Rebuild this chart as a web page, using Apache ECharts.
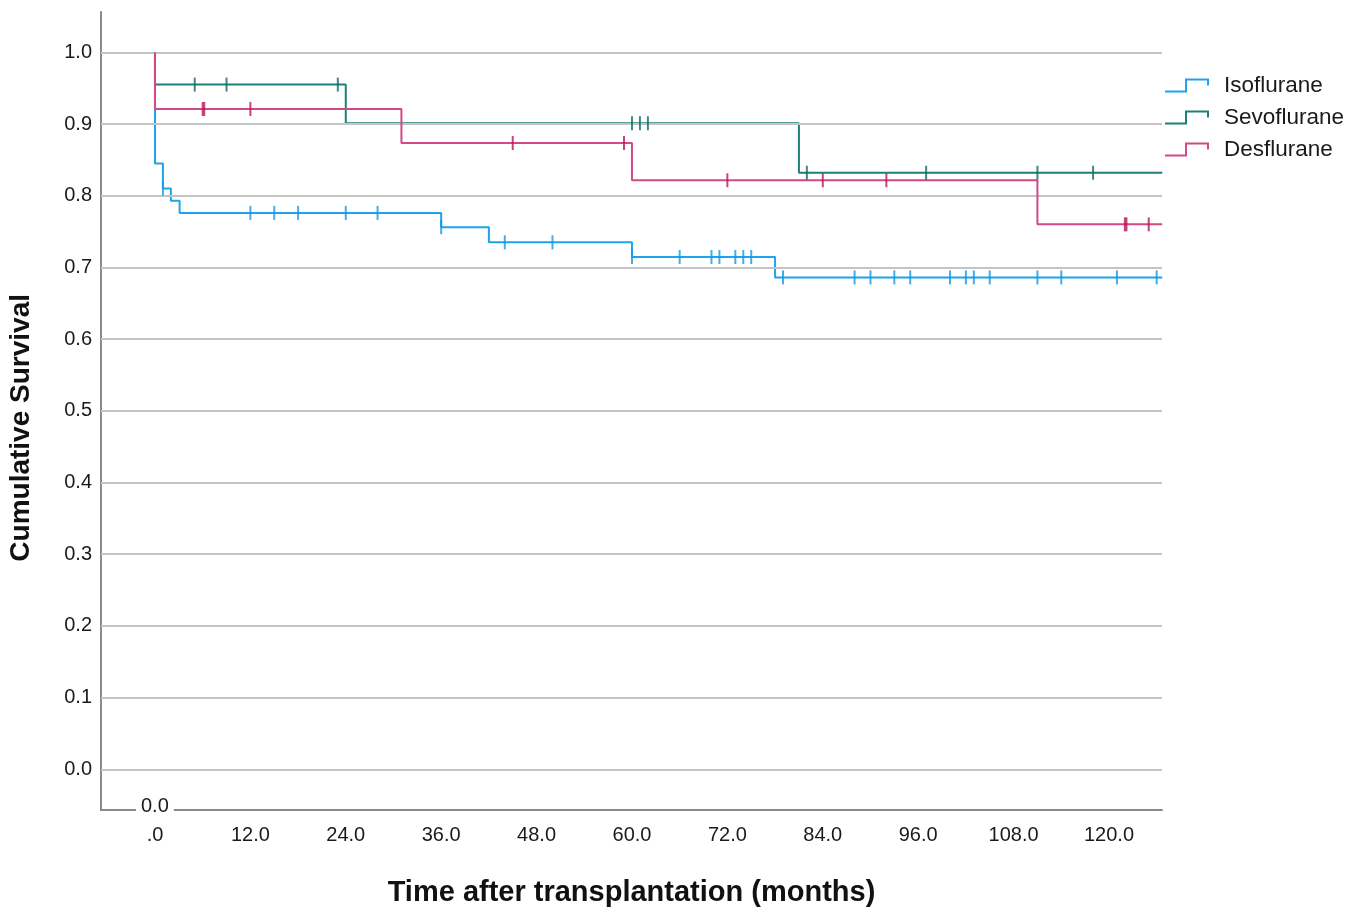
<!DOCTYPE html>
<html>
<head>
<meta charset="utf-8">
<script src="https://cdn.jsdelivr.net/npm/echarts@6/dist/echarts.min.js"></script>
<style>
html,body{margin:0;padding:0;background:#fff;}
#chart{width:1363px;height:913px;}
</style>
</head>
<body>
<div id="chart"></div>
<script>
// ---- Data ----
const seriesNames = ['Isoflurane', 'Sevoflurane', 'Desflurane'];

// Kaplan-Meier step events: time (months) and cumulative survival after the step
const isoTimes = [0, 0, 1.0, 2.0, 3.1, 36, 42, 60, 78];
const isoSurv  = [1.0, 0.845, 0.810, 0.793, 0.776, 0.756, 0.735, 0.7145, 0.686];
const isoEnd = 126.7;
const isoCensored = [1.0, 12, 15, 18, 24, 28, 36, 44, 50, 60, 66, 70, 71, 73, 74, 75, 79, 88, 90, 93, 95, 100, 102, 103, 105, 111, 114, 121, 126];

const sevoTimes = [0, 0, 24, 81];
const sevoSurv  = [1.0, 0.955, 0.901, 0.832];
const sevoEnd = 126.7;
const sevoCensored = [5, 9, 23, 60, 61, 62, 82, 97, 111, 118];

const desTimes = [0, 0, 31, 60, 111];
const desSurv  = [1.0, 0.921, 0.8735, 0.8215, 0.760];
const desEnd = 126.7;
const desCensored = [6, 6.2, 12, 45, 59, 72, 84, 92, 122, 122.2, 125];

const xTickLabels = [0, 12, 24, 36, 48, 60, 72, 84, 96, 108, 120];
const yTickLabels = [0, 0.1, 0.2, 0.3, 0.4, 0.5, 0.6, 0.7, 0.8, 0.9, 1.0];

// ---- Helpers ----
function stepData(times, surv, end) {
  const d = times.map((t, i) => [t, surv[i]]);
  d.push([end, surv[surv.length - 1]]);
  return d;
}
function survAt(times, surv, t) {
  let s = surv[0];
  for (let i = 0; i < times.length; i++) if (times[i] <= t) s = surv[i];
  return s;
}
function censorData(times, surv, cens) {
  return cens.map(t => [t, survAt(times, surv, t)]);
}

const lineColors = ['#1ea3ee', '#1f807a', '#d04a86'];
const markColors = ['#1796e6', '#0e6c64', '#b8145a'];

const legendIcon = 'path://M0,12 L20,12 L20,0 L44,0 L44,7 L42,7 L42,2 L22,2 L22,14 L0,14 Z';

const chart = echarts.init(document.getElementById('chart'));
const FONT = '"Liberation Sans", Arial, sans-serif';

const lineSeries = [
  [isoTimes, isoSurv, isoEnd],
  [sevoTimes, sevoSurv, sevoEnd],
  [desTimes, desSurv, desEnd]
].map((s, i) => ({
  name: seriesNames[i],
  type: 'line',
  step: 'end',
  showSymbol: false,
  symbol: 'none',
  z: 3 + i,
  lineStyle: { color: lineColors[i], width: 2 },
  itemStyle: { color: lineColors[i] },
  data: stepData(s[0], s[1], s[2]),
  animation: false
}));

const censorSeries = [
  [isoTimes, isoSurv, isoCensored],
  [sevoTimes, sevoSurv, sevoCensored],
  [desTimes, desSurv, desCensored]
].map((s, i) => ({
  name: seriesNames[i] + ' censored',
  type: 'scatter',
  symbol: 'rect',
  symbolSize: [2, 14],
  z: 6 + i,
  itemStyle: { color: markColors[i] },
  data: censorData(s[0], s[1], s[2]),
  animation: false
}));

const gridSeries = {
  name: 'grid',
  type: 'line',
  data: [],
  z: 1,
  silent: true,
  markLine: {
    silent: true,
    symbol: 'none',
    label: { show: false },
    animation: false,
    lineStyle: { color: '#c4c4c4', width: 2, type: 'solid' },
    data: yTickLabels.map(v => ({ yAxis: v }))
  }
};

chart.setOption({
  animation: false,
  backgroundColor: '#ffffff',
  grid: { left: 101, right: 201, top: 12, bottom: 103, containLabel: false },
  legend: {
    left: 1165, top: 74,
    padding: 0,
    orient: 'vertical',
    itemWidth: 44, itemHeight: 14, itemGap: 9,
    data: seriesNames.map(n => ({ name: n, icon: legendIcon })),
    textStyle: { fontFamily: FONT, fontSize: 22.5, color: '#1a1a1a', padding: [0, 0, 0, 10] },
    selectedMode: false
  },
  xAxis: {
    type: 'value',
    min: -6.79, max: 126.67,
    name: 'Time after transplantation (months)',
    nameLocation: 'middle',
    nameGap: 68,
    nameTextStyle: { fontFamily: FONT, fontSize: 29, fontWeight: 'bold', color: '#111' },
    axisLine: { show: true, onZero: false, lineStyle: { color: '#8a8a8a', width: 2 } },
    axisTick: { show: false },
    splitLine: { show: false },
    axisLabel: {
      customValues: xTickLabels,
      fontFamily: FONT, fontSize: 20, color: '#1a1a1a', margin: 15,
      formatter: v => v === 0 ? '.0' : v.toFixed(1)
    }
  },
  yAxis: {
    type: 'value',
    min: -0.0568, max: 1.0562,
    axisLine: { show: true, onZero: false, lineStyle: { color: '#8a8a8a', width: 2 } },
    axisTick: { show: false },
    splitLine: { show: false },
    axisLabel: {
      customValues: yTickLabels,
      fontFamily: FONT, fontSize: 20, color: '#1a1a1a', margin: 9,
      formatter: v => v.toFixed(1)
    }
  },
  graphic: [
    {
      type: 'text',
      left: 7, top: 294,
      rotation: Math.PI / 2,
      style: {
        text: 'Cumulative Survival',
        font: 'bold 28px "Liberation Sans", Arial, sans-serif',
        fill: '#111'
      }
    },
    {
      type: 'text',
      left: 136, top: 794,
      z: 100,
      style: {
        text: '0.0',
        font: '20px "Liberation Sans", Arial, sans-serif',
        fill: '#1a1a1a',
        backgroundColor: '#ffffff',
        padding: [2, 5, 2, 5]
      }
    }
  ],
  series: [gridSeries].concat(lineSeries, censorSeries)
});
</script>
</body>
</html>
